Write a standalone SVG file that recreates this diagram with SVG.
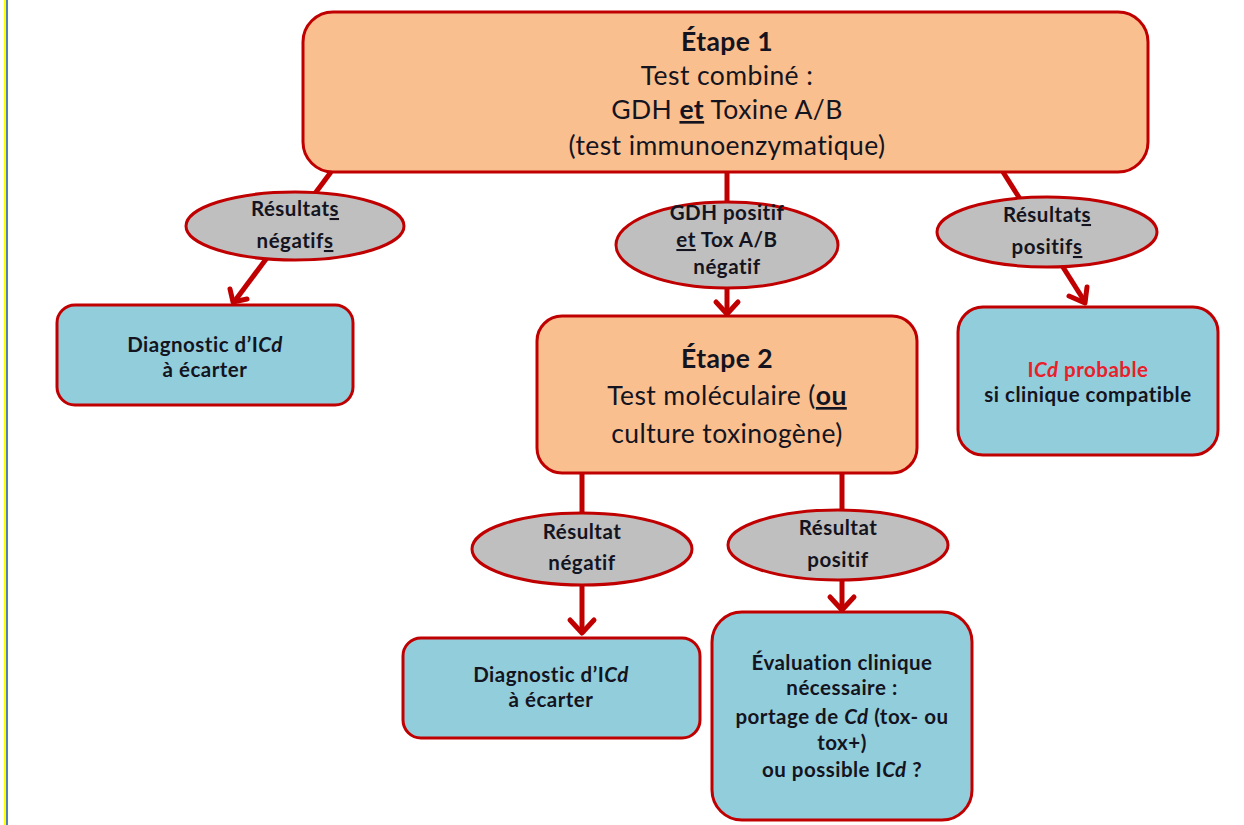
<svg xmlns="http://www.w3.org/2000/svg" width="1244" height="825" viewBox="0 0 1244 825">
<style>
.step{fill:#f9bf8f;stroke:#c00000;stroke-width:3}
.res{fill:#92cddc;stroke:#c00000;stroke-width:3}
.ell{fill:#bfbfbf;stroke:#c00000;stroke-width:3}
.con{stroke:#c00000;stroke-width:5;fill:none}
.arr{stroke:#c00000;stroke-width:5;fill:none;stroke-linecap:round;stroke-linejoin:round}
text{font-family:Lato,"Liberation Sans",sans-serif;fill:#141420;text-anchor:middle}
.big{font-size:26.5px;letter-spacing:0.4px}
.sm{font-size:20.5px;font-weight:bold;letter-spacing:0.5px}
.b{font-weight:bold}
.u{text-decoration:underline}
.red{fill:#e8202a}
</style>
<rect x="0" y="0" width="1244" height="825" fill="#ffffff"/>
<rect x="4" y="0" width="2" height="825" fill="#ffff00"/>
<rect x="6" y="0" width="2" height="825" fill="#4f81bd"/>
<g id="connectors">
  <line class="con" x1="331" y1="172" x2="234" y2="302"/>
  <polyline class="arr" points="230,289 233,302 247,299"/>
  <line class="con" x1="727" y1="172" x2="727" y2="316"/>
  <polyline class="arr" points="716,302 727,314 738,302"/>
  <line class="con" x1="1003" y1="172" x2="1085" y2="302"/>
  <polyline class="arr" points="1069,296 1085,303 1087,287"/>
  <line class="con" x1="582" y1="473" x2="582" y2="633"/>
  <polyline class="arr" points="570,620 582,633 594,620"/>
  <line class="con" x1="842" y1="473" x2="842" y2="610"/>
  <polyline class="arr" points="830,597 842,610 854,597"/>
</g>
<g id="etape1">
  <rect class="step" x="303" y="12" width="845" height="160" rx="30"/>
  <text class="big b" x="727" y="51">Étape 1</text>
  <text class="big" x="727" y="85">Test combiné :</text>
  <text class="big" x="727" y="119">GDH <tspan class="b u">et</tspan> Toxine A/B</text>
  <text class="big" x="727" y="155">(test immunoenzymatique)</text>
</g>
<g id="res-negatifs">
  <ellipse class="ell" cx="295" cy="226" rx="109" ry="34"/>
  <text class="sm" x="295" y="216">Résultat<tspan class="u">s</tspan></text>
  <text class="sm" x="295" y="248">négatif<tspan class="u">s</tspan></text>
</g>
<g id="gdh-positif">
  <ellipse class="ell" cx="727" cy="245" rx="111" ry="43"/>
  <text class="sm" x="727" y="220">GDH positif</text>
  <text class="sm" x="727" y="247"><tspan class="u">et</tspan> Tox A/B</text>
  <text class="sm" x="727" y="274">négatif</text>
</g>
<g id="res-positifs">
  <ellipse class="ell" cx="1047" cy="232" rx="110" ry="35"/>
  <text class="sm" x="1047" y="222">Résultat<tspan class="u">s</tspan></text>
  <text class="sm" x="1047" y="254">positif<tspan class="u">s</tspan></text>
</g>
<g id="diag-ecarter-1">
  <rect class="res" x="57" y="305" width="296" height="100" rx="18"/>
  <text class="sm" x="205" y="352">Diagnostic d’I<tspan font-style="italic">Cd</tspan></text>
  <text class="sm" x="205" y="377">à écarter</text>
</g>
<g id="icd-probable">
  <rect class="res" x="958" y="307" width="260" height="148" rx="25"/>
  <text class="sm red" x="1088" y="377">I<tspan font-style="italic" class="red">Cd</tspan> probable</text>
  <text class="sm" x="1088" y="402">si clinique compatible</text>
</g>
<g id="etape2">
  <rect class="step" x="537" y="316" width="380" height="157" rx="25"/>
  <text class="big b" x="727" y="368">Étape 2</text>
  <text class="big" x="727" y="405">Test moléculaire (<tspan class="b u">ou</tspan></text>
  <text class="big" x="727" y="443">culture toxinogène)</text>
</g>
<g id="res-negatif">
  <ellipse class="ell" cx="582" cy="549" rx="110" ry="36"/>
  <text class="sm" x="582" y="539">Résultat</text>
  <text class="sm" x="582" y="570">négatif</text>
</g>
<g id="res-positif">
  <ellipse class="ell" cx="838" cy="545" rx="110" ry="35"/>
  <text class="sm" x="838" y="535">Résultat</text>
  <text class="sm" x="838" y="567">positif</text>
</g>
<g id="diag-ecarter-2">
  <rect class="res" x="403" y="638" width="297" height="100" rx="18"/>
  <text class="sm" x="551" y="682">Diagnostic d’I<tspan font-style="italic">Cd</tspan></text>
  <text class="sm" x="551" y="707">à écarter</text>
</g>
<g id="evaluation">
  <rect class="res" x="712" y="612" width="260" height="208" rx="30"/>
  <text class="sm" x="842" y="670">Évaluation clinique</text>
  <text class="sm" x="842" y="695">nécessaire :</text>
  <text class="sm" x="842" y="724">portage de <tspan font-style="italic">Cd</tspan> (tox- ou</text>
  <text class="sm" x="842" y="750">tox+)</text>
  <text class="sm" x="842" y="777">ou possible I<tspan font-style="italic">Cd</tspan> ?</text>
</g>
</svg>
